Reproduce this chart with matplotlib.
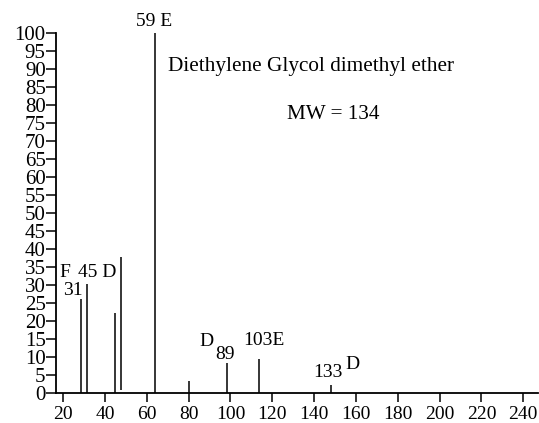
import matplotlib.pyplot as plt

plt.rcParams["font.family"] = ["Liberation Serif", "DejaVu Serif"]

# peak positions (as drawn on the axis) and relative intensities
mz = [28.5, 31.3, 44.9, 47.6, 64.0, 80.0, 98.1, 113.6, 148.2]
intensity = [26.1, 30.2, 22.1, 37.9, 100, 3.3, 8.2, 9.4, 2.2]
base = [0, 0, 0, 0.7, 0, 0, 0, 0, 0]

# peak annotations: (text, x, y, ha)
labels = [
    ("59 E", 63.5, 103.3, "center"),
    ("F", 21.0, 33.6, "center"),
    ("45 D", 27.2, 33.6, "left"),
    ("31", 20.0, 28.6, "left"),
    ("D", 88.4, 14.2, "center"),
    ("89", 92.7, 10.6, "left"),
    ("103E", 106.1, 14.7, "left"),
    ("133", 139.6, 5.8, "left"),
    ("D", 154.9, 7.8, "left"),
]
title = "Diethylene Glycol dimethyl ether"
mw = "MW = 134"

fig = plt.figure(figsize=(5.39, 4.23), dpi=100)
ax = fig.add_axes([0.104, 0.071, 0.894, 0.851])

ax.vlines(mz, base, intensity, color="black", lw=1.1)

for t, x, y, ha in labels:
    ax.text(x, y, t, ha=ha, va="center", fontsize=14, clip_on=False)
ax.text(70.2, 90.6, title, ha="left", va="center", fontsize=15.3)
ax.text(127.0, 77.3, mw, ha="left", va="center", fontsize=15.2)

ax.set_xlim(16.6, 247)
ax.set_ylim(0, 100)
ax.set_xticks(range(20, 241, 20))
ax.set_yticks(range(0, 101, 5))
ax.tick_params(axis="y", labelsize=15, length=7, width=1.1, pad=0.5)
ax.tick_params(axis="x", labelsize=14, length=6.5, width=1.1, pad=3)
ax.spines[["top", "right"]].set_visible(False)
ax.spines[["left", "bottom"]].set_linewidth(1.3)

fig.savefig("out.png", facecolor="white")
